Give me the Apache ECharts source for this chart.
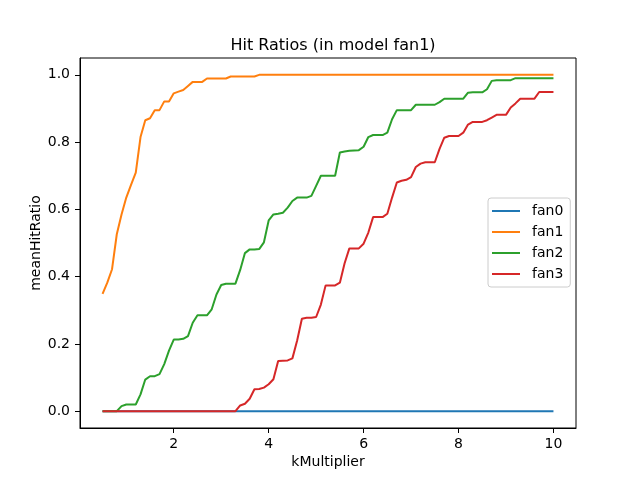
<!DOCTYPE html>
<html>
<head>
<meta charset="utf-8">
<script src="https://cdn.jsdelivr.net/npm/echarts@6/dist/echarts.min.js"></script>
<style>
html,body{margin:0;padding:0;background:#fff;}
#chart{width:640px;height:480px;}
</style>
</head>
<body>
<div id="chart"></div>
<script>
const kMultiplier = [0.5,0.6,0.7,0.8,0.9,1.0,1.1,1.2,1.3,1.4,1.5,1.6,1.7,1.8,1.9,2.0,2.1,2.2,2.3,2.4,2.5,2.6,2.7,2.8,2.9,3.0,3.1,3.2,3.3,3.4,3.5,3.6,3.7,3.8,3.9,4.0,4.1,4.2,4.3,4.4,4.5,4.6,4.7,4.8,4.9,5.0,5.1,5.2,5.3,5.4,5.5,5.6,5.7,5.8,5.9,6.0,6.1,6.2,6.3,6.4,6.5,6.6,6.7,6.8,6.9,7.0,7.1,7.2,7.3,7.4,7.5,7.6,7.7,7.8,7.9,8.0,8.1,8.2,8.3,8.4,8.5,8.6,8.7,8.8,8.9,9.0,9.1,9.2,9.3,9.4,9.5,9.6,9.7,9.8,9.9,10.0];

const fan0 = [0,0,0,0,0,0,0,0,0,0,0,0,0,0,0,0,0,0,0,0,0,0,0,0,0,0,0,0,0,0,0,0,0,0,0,0,0,0,0,0,0,0,0,0,0,0,0,0,0,0,0,0,0,0,0,0,0,0,0,0,0,0,0,0,0,0,0,0,0,0,0,0,0,0,0,0,0,0,0,0,0,0,0,0,0,0,0,0,0,0,0,0,0,0,0,0];

const fan1 = [0.349,0.382,0.422,0.526,0.585,0.635,0.673,0.709,0.815,0.865,0.871,0.895,0.895,0.921,0.921,0.945,0.95,0.955,0.967,0.979,0.979,0.979,0.989,0.989,0.989,0.989,0.989,0.995,0.995,0.995,0.995,0.995,0.995,
1,1,1,1,1,1,1,1,1,1,1,1,1,1,1,1,1,1,1,1,1,1,1,1,1,1,1,1,1,1,1,1,1,1,1,1,1,1,1,1,1,1,1,1,1,1,1,1,1,1,1,1,1,1,1,1,1,1,1,1,1,1,1];

const fan2 = [0,0,0,0,0.015,0.02,0.02,0.02,0.05,0.094,0.104,0.104,0.11,0.14,0.18,0.213,0.213,0.215,0.223,0.263,0.285,0.285,0.285,0.303,0.347,0.375,0.379,0.379,0.379,0.42,0.47,0.481,0.481,0.482,0.502,0.567,0.585,0.587,0.59,0.605,0.625,0.635,0.635,0.635,0.64,0.67,0.70,0.70,0.70,0.70,0.769,0.772,0.774,0.775,0.776,0.786,0.815,0.821,0.821,0.821,0.828,0.868,0.895,0.895,0.895,0.895,0.911,0.911,0.911,0.911,0.911,0.919,0.929,0.929,0.929,0.929,0.929,0.947,0.948,0.948,0.948,0.957,0.982,0.984,0.984,0.984,0.984,0.99,0.99,0.99,0.99,0.99,0.99,0.99,0.99,0.99];

const fan3 = [0,0,0,0,0,0,0,0,0,0,0,0,0,0,0,0,0,0,0,0,0,0,0,0,0,0,0,0,0,
0.017,0.022,0.037,0.065,0.066,0.07,0.08,0.095,0.149,0.15,0.151,0.157,0.21,0.275,0.278,0.278,0.28,0.317,0.374,0.374,0.374,0.382,0.44,0.484,0.484,0.484,0.498,0.531,0.577,0.577,0.577,0.587,0.635,0.68,0.685,0.688,0.696,0.726,0.736,0.74,0.74,0.74,0.78,0.813,0.818,0.818,0.818,0.828,0.852,0.86,0.86,0.86,0.865,0.873,0.881,0.881,0.881,0.903,0.915,0.929,0.929,0.929,0.929,0.949,0.949,0.949,0.949];

const seriesNames = ['fan0','fan1','fan2','fan3'];
const seriesValues = [fan0, fan1, fan2, fan3];
const seriesColors = ['#1f77b4','#ff7f0e','#2ca02c','#d62728'];
const xTicks = [2,4,6,8,10];
const yTicks = [0,0.2,0.4,0.6,0.8,1.0];

const FONT = 'DejaVu Sans';
const chart = echarts.init(document.getElementById('chart'), null, {renderer:'canvas'});

const series = seriesNames.map((name, i) => ({
  name: name,
  type: 'line',
  data: kMultiplier.map((x, j) => [x, seriesValues[i][j]]),
  showSymbol: false,
  symbol: 'none',
  animation: false,
  lineStyle: {color: seriesColors[i], width: 2},
  itemStyle: {color: seriesColors[i]}
}));

chart.setOption({
  animation: false,
  backgroundColor: '#ffffff',
  title: {
    text: 'Hit Ratios (in model fan1)',
    left: 328,
    textAlign: 'center',
    top: 33,
    textStyle: {fontFamily: FONT, fontSize: 16, fontWeight: 'normal', color: '#000'}
  },
  grid: {
    left: 80, right: 64, top: 58, bottom: 52,
    show: true, borderColor: '#000', borderWidth: 1, backgroundColor: 'transparent'
  },
  legend: {
    orient: 'vertical',
    left: 488, top: 198,
    padding: [5, 7, 5, 4],
    itemGap: 5,
    itemWidth: 28, itemHeight: 2,
    icon: 'rect',
    backgroundColor: 'rgba(255,255,255,0.8)',
    borderColor: '#cccccc', borderWidth: 1, borderRadius: 3,
    textStyle: {fontFamily: FONT, fontSize: 14, color: '#000', lineHeight: 16, padding: [0,0,0,7]},
    data: seriesNames
  },
  xAxis: {
    type: 'value',
    min: 0.025, max: 10.475,
    name: 'kMultiplier',
    nameLocation: 'middle',
    nameGap: 27,
    nameMoveOverlap: false,
    nameTextStyle: {fontFamily: FONT, fontSize: 14, color: '#000'},
    axisLine: {show: true, onZero: false, lineStyle: {color: '#000', width: 1}},
    axisTick: {show: true, length: 5, lineStyle: {color: '#000'}, customValues: xTicks},
    axisLabel: {fontFamily: FONT, fontSize: 14, color: '#000', margin: 9, customValues: xTicks,
      formatter: v => String(v)},
    splitLine: {show: false}
  },
  yAxis: {
    type: 'value',
    min: -0.05, max: 1.05,
    name: 'meanHitRatio',
    nameLocation: 'middle',
    nameGap: 37,
    nameMoveOverlap: false,
    nameTextStyle: {fontFamily: FONT, fontSize: 14, color: '#000'},
    axisLine: {show: true, onZero: false, lineStyle: {color: '#000', width: 1}},
    axisTick: {show: true, length: 5, lineStyle: {color: '#000'}, customValues: yTicks},
    axisLabel: {fontFamily: FONT, fontSize: 14, color: '#000', margin: 10, customValues: yTicks,
      formatter: v => v.toFixed(1)},
    splitLine: {show: false}
  },
  series: series
});
</script>
</body>
</html>
